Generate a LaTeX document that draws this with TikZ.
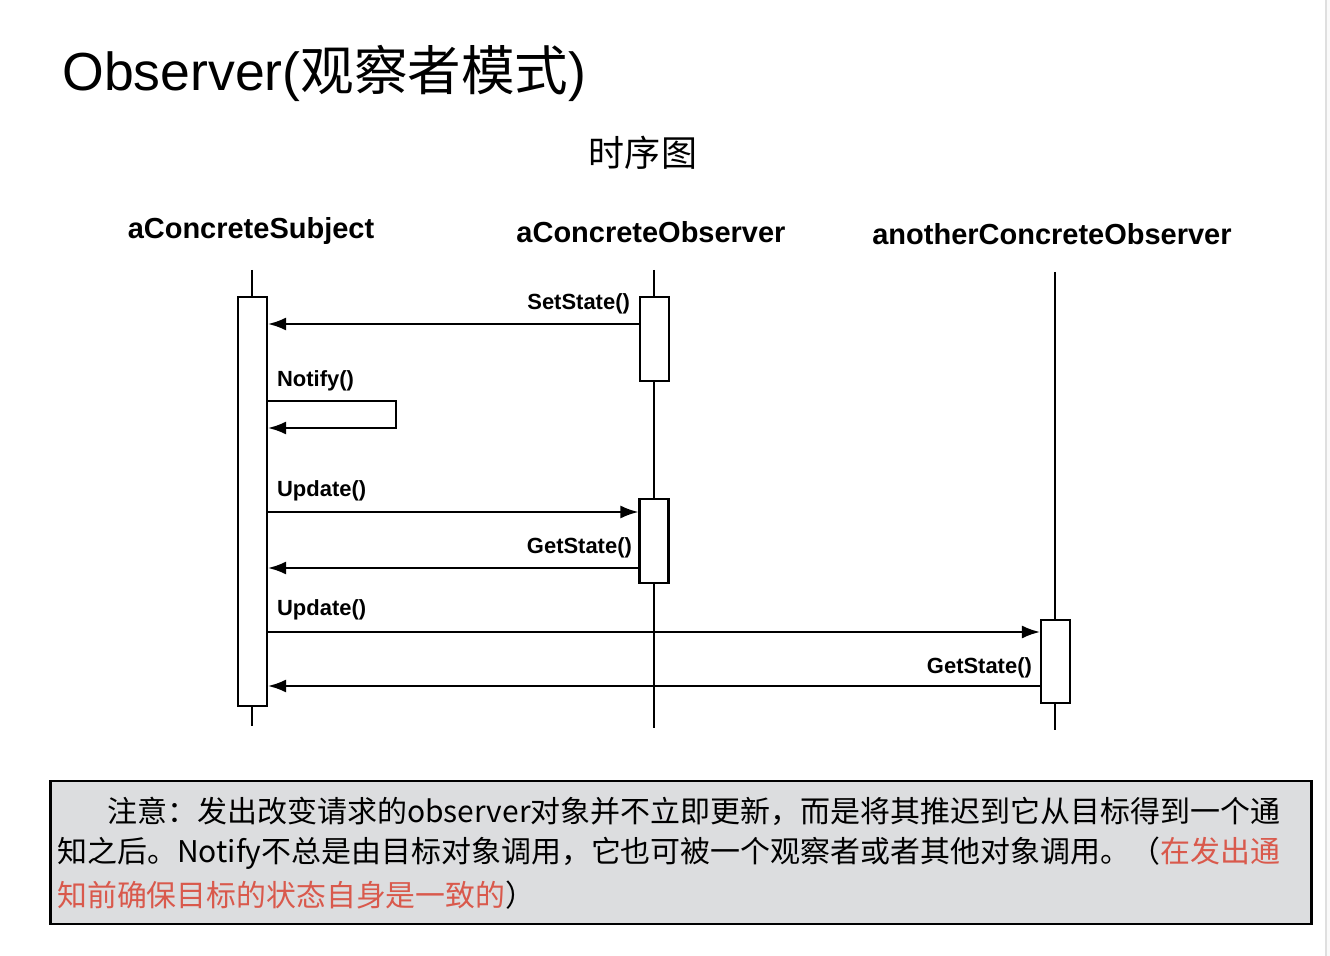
\documentclass[tikz,border=0pt]{standalone}
\usepackage{fontspec}
\setmainfont{Liberation Sans}
\newfontfamily\cjk{Noto Sans CJK SC}
\usepackage{graphicx}
\usetikzlibrary{arrows.meta}

\definecolor{notegray}{RGB}{220,221,223}
\definecolor{notered}{RGB}{217,89,76}

\begin{document}
\begin{tikzpicture}[x=0.02cm, y=-0.02cm,
	lifeline/.style={line width=1.2pt},
	actbox/.style={draw, line width=1.2pt, fill=white, minimum width=0.58cm, inner sep=0pt},
	msg/.style={line width=1.2pt, -{Latex[length=3.6mm,width=2.6mm]}},
	obj/.style={font=\fontsize{16.5}{18}\selectfont\bfseries},
	call/.style={font=\fontsize{12.5}{14}\selectfont\bfseries, inner sep=1pt},
	noteline/.style={anchor=west, inner sep=0pt, font=\fontsize{17}{20}\selectfont\cjk}]

\useasboundingbox (0,0) rectangle (1330,956);
\fill [gray!4] (1327,0) rectangle (1330,956);
\draw [gray!25, line width=1.2pt] (1326,0) -- (1326,956);

\node (title) at (62,73) [anchor=west, inner sep=0pt, font=\fontsize{30.5}{34}\selectfont] {Observer({\cjk 观察者模式})};
\node (sub) at (643,153) [font=\fontsize{20.5}{24}\selectfont\cjk] {时序图};

% objects
\node (subj) at (251,231) [obj] {aConcreteSubject};
\node (obsa) at (651,232) [obj] {aConcreteObserver};
\node (obsb) at (1052,234) [obj] {anotherConcreteObserver};

% lifelines
\draw [lifeline] (252,270) -- (252,726);
\draw [lifeline] (654,270) -- (654,728);
\draw [lifeline] (1055,272) -- (1055,730);

% activations
\node (sbox) at (252.5,501.5) [actbox, minimum height=8.18cm] {};
\node (abox) at (654.5,339) [actbox, minimum height=1.68cm] {};
\node (aboxb) at (654,541) [actbox, minimum height=1.68cm] {};
\node (bbox) at (1055.5,661.5) [actbox, minimum height=1.66cm] {};

% messages
\draw [msg] (abox.west |- 0,324) -- (sbox.east |- 0,324);
\node at (632,304) [call, anchor=east] {SetState()};

\coordinate (turn) at (396,401);
\draw [msg] (sbox.east |- turn) -- (turn) -- (396,428) -- (sbox.east |- 0,428);
\node at (275,381) [call, anchor=west] {Notify()};

\draw [msg] (sbox.east |- 0,512) -- (aboxb.west |- 0,512);
\node at (275,491) [call, anchor=west] {Update()};
\draw [msg] (aboxb.west |- 0,568) -- (sbox.east |- 0,568);
\node at (634,548) [call, anchor=east] {GetState()};

\draw [msg] (sbox.east |- 0,632) -- (bbox.west |- 0,632);
\node at (275,610) [call, anchor=west] {Update()};
\draw [msg] (bbox.west |- 0,686) -- (sbox.east |- 0,686);
\node at (1034,668) [call, anchor=east] {GetState()};

% note
\node (note) at (681,852.5) [draw, line width=1.6pt, fill=notegray, minimum width=25.24cm, minimum height=2.86cm] {};
\node (noteA) at (107,811) [noteline] {\resizebox{23.46cm}{\height}{注意：发出改变请求的observer对象并不立即更新，而是将其推迟到它从目标得到一个通}};
\node (noteB) at (57,853) [noteline] {\resizebox{24.46cm}{\height}{知之后。Notify不总是由目标对象调用，它也可被一个观察者或者其他对象调用。（{\color{notered}在发出通}}};
\node (noteC) at (57,895) [noteline] {{\color{notered}知前确保目标的状态自身是一致的}）};
\end{tikzpicture}
\end{document}
